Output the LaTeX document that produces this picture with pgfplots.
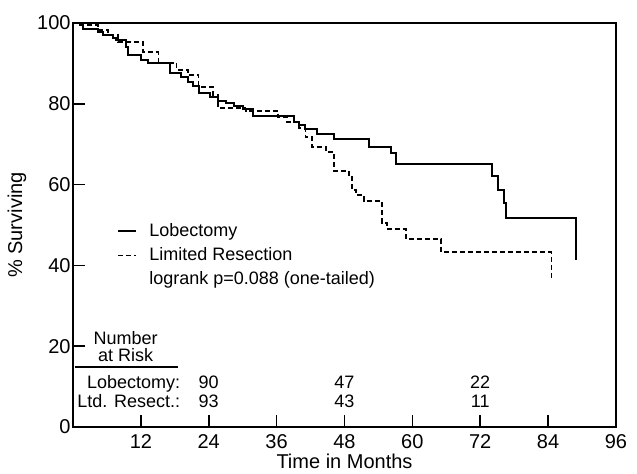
\documentclass[border=0pt]{standalone}
\usepackage{fontspec}
\setmainfont{Liberation Sans}
\usepackage{pgfplots}
\pgfplotsset{compat=1.18}

\begin{document}
\begin{tikzpicture}
\useasboundingbox (-36.5pt,-23pt) rectangle (282pt,213.5pt);
\begin{axis}[
  at={(0,0)}, anchor=south west,
  scale only axis, width=271.5pt, height=202pt,
  xmin=0, xmax=96, ymin=0, ymax=100,
  xtick={12,24,...,96}, ytick={0,20,...,100},
  tick pos=left, tick align=inside, major tick length=6pt,
  axis line style={line width=0.8pt},
  every tick/.style={black, line width=0.8pt},
  tick label style={font=\fontsize{10}{12}\selectfont},
  yticklabel style={inner xsep=1pt},
  /pgf/number format/assume math mode=true,
  xlabel={Time in Months}, ylabel={\% Surviving},
  label style={font=\fontsize{9}{11}\selectfont},
  every axis x label/.style={at={(axis description cs:0.5,-0.086)},anchor=center},
  every axis y label/.style={at={(axis description cs:-0.103,0.5)},rotate=90,anchor=center},
  legend image code/.code={\draw[#1] (0pt,0pt) -- (9pt,0pt); \path (13pt,0pt);},
  legend style={draw=none, fill=none, at={(axis description cs:0.081,0.515)},
    anchor=north west, inner sep=0pt, row sep=0pt,
    font=\fontsize{9}{11}\selectfont},
  legend cell align=left,
]
% Lobectomy
\addplot[const plot, line width=1pt] coordinates {
  (0,100) (1.8,98.5) (4.4,97.8) (5.3,97.0) (7.1,96.3) (7.6,95.8) (9.4,94.1)
  (9.8,92.1) (12.1,90.8) (13.3,90.1) (17.2,87.6) (19.1,86.6) (20.4,85.4)
  (21.3,84.4) (22.2,82.7) (24.3,81.7) (25.7,80.7) (27.1,80.2) (28.5,79.5)
  (30.1,78.7) (31.9,77.0) (39.0,75.5) (39.9,74.8) (41.1,73.8) (43.1,72.5)
  (46.1,71.3) (52.3,69.3) (56.2,67.8) (57.1,65.1) (74.1,62.1) (75.2,58.7)
  (76.2,55.4) (76.6,51.7) (89.0,41.3)};
\addlegendentry{Lobectomy}
% Limited resection
\addplot[const plot, line width=0.9pt, dash pattern=on 2.5pt off 1.5pt] coordinates {
  (0,100) (0.9,99.5) (4.4,98.3) (6.2,97.0) (8.0,95.3) (12.4,92.8) (15.1,90.1)
  (18.3,88.4) (20.4,87.1) (22.2,84.2) (24.8,82.2) (25.7,79.0) (30.5,78.2)
  (36.3,76.7) (37.8,75.5) (39.9,74.0) (41.1,71.8) (42.2,69.3) (44.7,68.1)
  (46.1,63.4) (48.8,61.9) (49.3,58.7) (50.0,57.4) (51.4,55.9) (54.6,50.5)
  (55.5,49.0) (58.9,46.5) (65.1,43.3) (84.6,36.4)};
\addlegendentry{Limited Resection}
\addlegendimage{empty legend}
\addlegendentry{logrank p=0.088 (one-tailed)}

% number at risk
\node[font=\fontsize{9}{9}\selectfont, anchor=base] at (axis cs:9.3,20.3) {Number};
\node[font=\fontsize{9}{9}\selectfont, anchor=base] at (axis cs:9.3,16.1) {at Risk};
\draw[line width=0.8pt] (axis cs:0.35,14.9) -- (axis cs:18.6,14.9);
\node[font=\fontsize{9}{9}\selectfont, anchor=base east, inner xsep=0pt] at (axis cs:19.0,9.5) {Lobectomy:};
\node[font=\fontsize{9}{9}\selectfont, anchor=base east, inner xsep=0pt] at (axis cs:19.0,4.8) {Ltd. Resect.:};
\node[font=\fontsize{9}{9}\selectfont, anchor=base] at (axis cs:24,9.5) {90};
\node[font=\fontsize{9}{9}\selectfont, anchor=base] at (axis cs:48,9.5) {47};
\node[font=\fontsize{9}{9}\selectfont, anchor=base] at (axis cs:72,9.5) {22};
\node[font=\fontsize{9}{9}\selectfont, anchor=base] at (axis cs:24,4.8) {93};
\node[font=\fontsize{9}{9}\selectfont, anchor=base] at (axis cs:48,4.8) {43};
\node[font=\fontsize{9}{9}\selectfont, anchor=base] at (axis cs:72,4.8) {11};
\end{axis}
\end{tikzpicture}
\end{document}
